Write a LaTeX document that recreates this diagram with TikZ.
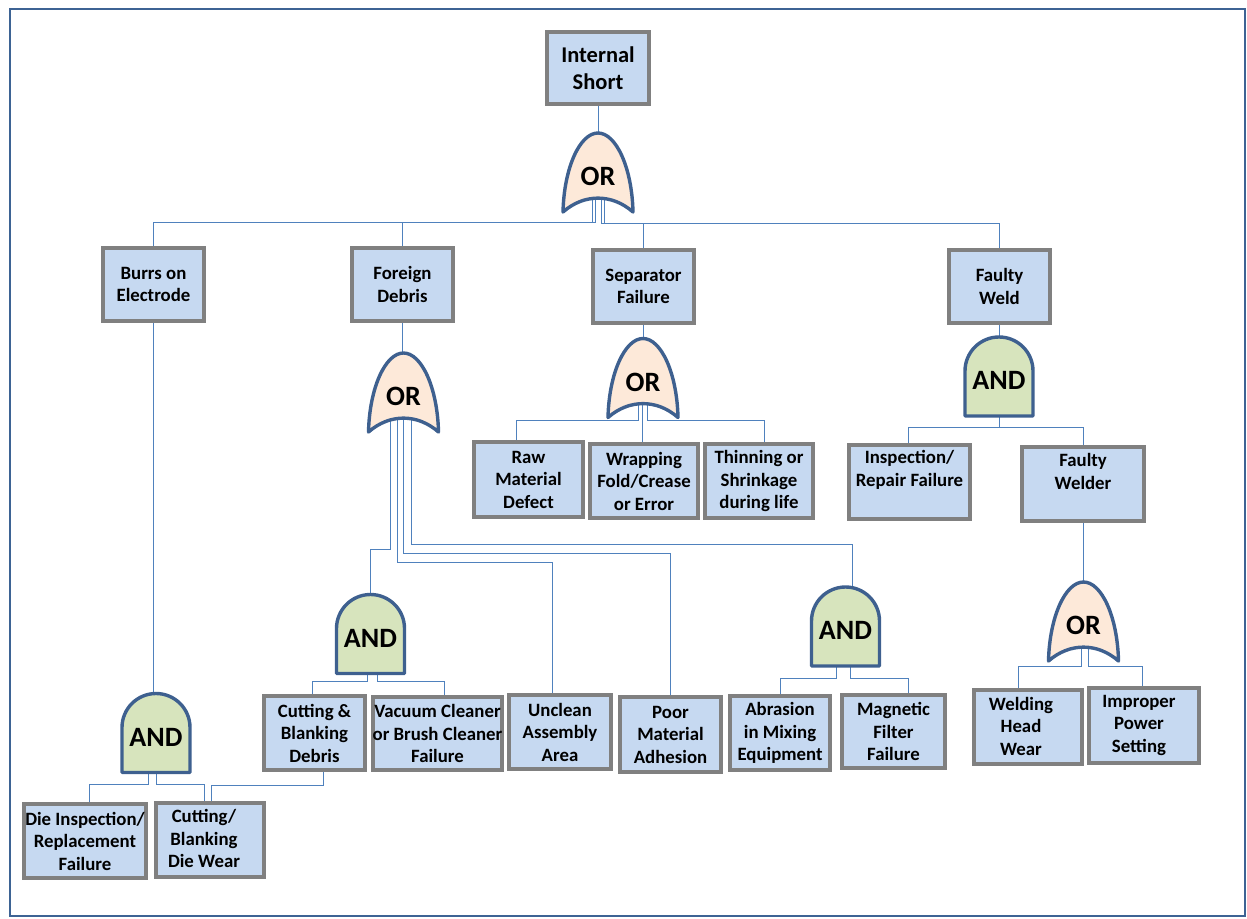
\documentclass[tikz,border=0pt]{standalone}
\usepackage{fontspec}
\setmainfont{Carlito}
\usetikzlibrary{backgrounds}
\definecolor{boxblue}{RGB}{198,217,241}
\definecolor{boxgray}{RGB}{128,128,128}
\definecolor{gateblue}{RGB}{62,96,143}
\definecolor{orfill}{RGB}{253,233,217}
\definecolor{andfill}{RGB}{215,228,189}
\definecolor{connblue}{RGB}{79,129,189}
\definecolor{framecol}{RGB}{61,99,148}
\tikzset{
  box/.style={draw=boxgray, line width=3.8pt, fill=boxblue, inner sep=0pt, align=center,
    font=\bfseries\fontsize{18.8}{22.5}\selectfont},
  boxtext/.style={inner sep=0pt, align=center, font=\bfseries\fontsize{18.8}{22.5}\selectfont},
  topbox/.style={box, font=\bfseries\fontsize{22.5}{27}\selectfont},
  gatenode/.style={minimum width=70pt, minimum height=79pt, inner sep=0pt,
    text height=26pt, text depth=0pt, font=\bfseries\fontsize{28}{28}\selectfont},
  conn/.style={draw=connblue, line width=1pt},
  gateline/.style={draw=gateblue, line width=3.4pt, line join=round},
}
\newcommand\orgate[3]{%
  \path[gateline, fill=orfill, shift={(#2,#3)}] (-35,39.5) .. controls (-34,-5) and (-18,-39.5) .. (0,-39.5)
    .. controls (18,-39.5) and (34,-5) .. (35,39.5) .. controls (14,21) and (-14,21) .. cycle;
  \node[gatenode] (#1) at (#2,#3) {OR};}
\newcommand\andgate[3]{%
  \path[gateline, fill=andfill, shift={(#2,#3)}] (-34,39.5) -- (-34,-5.5)
    .. controls (-34,-24.3) and (-18.8,-39.5) .. (0,-39.5)
    .. controls (18.8,-39.5) and (34,-24.3) .. (34,-5.5) -- (34,39.5) -- cycle;
  \node[gatenode] (#1) at (#2,#3) {AND};}
\begin{document}
\begin{tikzpicture}[x=1pt,y=-1pt]
\useasboundingbox (0,0) rectangle (1247,918);
\draw[framecol, line width=2.6pt] (10,9) rectangle (1245,916);

% boxes
\node[topbox, minimum width=102, minimum height=72] (is) at (598,68) {Internal\\Short};
\node[box, minimum width=101, minimum height=73] (burrs) at (153.5,284.5) {Burrs on\\Electrode};
\node[box, minimum width=101, minimum height=73] (foreign) at (402.5,284.5) {Foreign\\Debris};
\node[box, minimum width=101, minimum height=73] (sep) at (643.5,286.5) {Separator\\Failure};
\node[box, minimum width=101, minimum height=73] (weld) at (999.5,286.5) {Faulty\\Weld};
\node[box, minimum width=109, minimum height=75] (raw) at (528.5,479.5) {Raw\\Material\\Defect};
\node[box, minimum width=108, minimum height=74] (wrap) at (644,481) {Wrapping\\Fold/Crease\\or Error};
\node[box, minimum width=108, minimum height=74] (thin) at (759,481) {Thinning or\\Shrinkage\\during life};
\node[box, minimum width=121, minimum height=74] (insp) at (909.5,482) {};
\node[boxtext] (insp-t) at (909.5,470) {Inspection/\\Repair Failure};
\node[box, minimum width=122, minimum height=74] (welder) at (1083,484) {};
\node[boxtext] (welder-t) at (1083,471.5) {Faulty\\Welder};
\node[box, minimum width=108, minimum height=74] (whw) at (1028,727) {};
\node[boxtext] (whw-t) at (1021,726) {Welding\\Head\\Wear};
\node[box, minimum width=110, minimum height=75] (imp) at (1144,725.5) {};
\node[boxtext] (imp-t) at (1139,725) {Improper\\Power\\Setting};
\node[box, minimum width=101, minimum height=74] (cutdeb) at (314.5,733) {Cutting \&\\Blanking\\Debris};
\node[box, minimum width=127, minimum height=73] (vac) at (437.5,733.5) {Vacuum Cleaner\\or Brush Cleaner\\Failure};
\node[box, minimum width=102, minimum height=74] (unclean) at (560,732) {Unclean\\Assembly\\Area};
\node[box, minimum width=101, minimum height=75] (poor) at (670.5,734.5) {Poor\\Material\\Adhesion};
\node[box, minimum width=100, minimum height=74] (abr) at (780,733) {Abrasion\\in Mixing\\Equipment};
\node[box, minimum width=103, minimum height=73] (mag) at (893.5,731.5) {Magnetic\\Filter\\Failure};
\node[box, minimum width=122, minimum height=74] (die) at (85,841) {Die Inspection/\\Replacement\\Failure};
\node[box, minimum width=108, minimum height=74] (cutwear) at (210,840) {};
\node[boxtext] (cutwear-t) at (204,838.5) {Cutting/\\Blanking\\Die Wear};

% gates
\orgate{g1}{598}{172.5}
\orgate{g2}{403.5}{392.5}
\orgate{g3}{643}{378}
\orgate{g4}{1083.5}{621.5}
\andgate{a1}{999}{376.5}
\andgate{a2}{156}{733}
\andgate{a3}{370.5}{634}
\andgate{a4}{845.5}{626.5}

\begin{pgfonlayer}{background}
\draw[conn] (is.south) -- (g1.north);
\draw[conn] (g1.center) ++(-6,0) -- ++(0,49.5) -| (burrs.north);
\draw[conn] (g1.center) ++(-3,0) -- ++(0,49.5) -| (foreign.north);
\draw[conn] (g1.center) ++(3,0) -- ++(0,50.5) -| (sep.north);
\draw[conn] (g1.center) ++(6,0) -- ++(0,50.5) -| (weld.north);

\draw[conn] (foreign.south) -- (foreign.south |- g2.north);
\draw[conn] (g2.center) ++(-13.5,0) -- ++(0,156.5) -| (a3.north);
\draw[conn] (g2.center) ++(-6.5,0) -- ++(0,169.5) -| ([xshift=-8pt]unclean.north);
\draw[conn] (g2.center) ++(-0.5,0) -- ++(0,160.5) -| (poor.north);
\draw[conn] (g2.center) ++(7.5,0) -- ++(0,151.5) -| ([xshift=7pt]a4.north);

\draw[conn] (sep.south) -- (sep.south |- g3.north);
\draw[conn] (g3.center) ++(-5,0) -- ++(0,42) -| ([xshift=-12.5pt]raw.north);
\draw[conn] ([xshift=-2pt]wrap.north) -- ([xshift=-2pt]wrap.north |- g3.center);
\draw[conn] (g3.center) ++(4,0) -- ++(0,42) -| ([xshift=5pt]thin.north);

\draw[conn] (weld.south) -- (weld.south |- a1.north);
\draw[conn] (a1.center) -- ++(0,50.5) -| ([xshift=-1.5pt]insp.north);
\draw[conn] (a1.center) -- ++(0,50.5) -| (welder.north);
\draw[conn] (welder.south) -- (welder.south |- g4.north);
\draw[conn] (g4.center) ++(-2.5,0) -- ++(0,44.5) -| ([xshift=-10pt]whw.north);
\draw[conn] (g4.center) ++(4.5,0) -- ++(0,44.5) -| ([xshift=-2pt]imp.north);

\draw[conn] (burrs.south) -- (burrs.south |- a2.north);
\draw[conn] (a2.center) ++(-8,0) -- ++(0,51) -| ([xshift=4pt]die.north);
\draw[conn] (a2.center) -- ++(0,51) -| ([xshift=-6pt]cutwear.north);
\draw[conn] ([xshift=8.5pt]cutdeb.south) -- ++(0,14) -| ([xshift=1pt]cutwear.north);

\draw[conn] (a3.center) ++(-3.5,0) -- ++(0,47) -| ([xshift=-2.5pt]cutdeb.north);
\draw[conn] (a3.center) ++(6.5,0) -- ++(0,47) -| ([xshift=6.5pt]vac.north);

\draw[conn] (a4.center) ++(-9.5,0) -- ++(0,51.5) -| (abr.north);
\draw[conn] (a4.center) ++(4.5,0) -- ++(0,51.5) -| ([xshift=14.5pt]mag.north);
\end{pgfonlayer}
\end{tikzpicture}
\end{document}
